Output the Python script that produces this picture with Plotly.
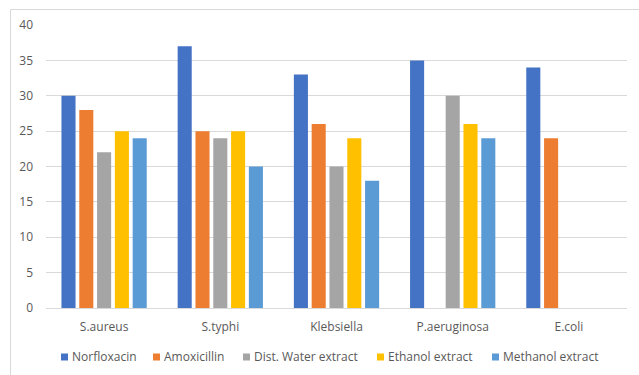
import plotly.graph_objects as go

# Zone of inhibition (mm) per organism and treatment
organisms = ["S.aureus", "S.typhi", "Klebsiella", "P.aeruginosa", "E.coli"]
series_names = ["Norfloxacin", "Amoxicillin", "Dist. Water extract",
                "Ethanol extract", "Methanol extract"]
norfloxacin = [30, 37, 33, 35, 34]
amoxicillin = [28, 25, 26, None, 24]
dist_water = [22, 24, 20, 30, None]
ethanol = [25, 25, 24, 26, None]
methanol = [24, 20, 18, 24, None]
series_values = [norfloxacin, amoxicillin, dist_water, ethanol, methanol]
colors = ["#4472C4", "#ED7D31", "#A5A5A5", "#FFC000", "#5B9BD5"]
y_ticks = [0, 5, 10, 15, 20, 25, 30, 35, 40]

W, H = 639, 375
L, R, T, B = 46, 12, 25, 67
pw, ph = W - L - R, H - T - B

FONT = "Open Sans"
FS = 12
TXT = "#595959"
GRID = "#D9D9D9"

fig = go.Figure()
for name, vals, col in zip(series_names, series_values, colors):
    fig.add_trace(go.Bar(x=organisms, y=vals, name=name, marker_color=col,
                         marker_line_width=0, showlegend=False))


def px_x(x):
    return (x - L) / pw


def px_y(y):
    return (H - B - y) / ph


shapes = [
    # outer chart frame
    dict(type="rect", xref="paper", yref="paper",
         x0=px_x(10.5), x1=px_x(641), y0=px_y(378), y1=px_y(9.5),
         line=dict(color=GRID, width=1), fillcolor="rgba(0,0,0,0)", layer="below"),
]
annotations = []

# legend row below the plot
legend_x = [61, 153, 243, 377, 492]
legend_y = 357
for name, col, lx in zip(series_names, colors, legend_x):
    shapes.append(dict(type="rect", xref="paper", yref="paper",
                       x0=px_x(lx), x1=px_x(lx + 7),
                       y0=px_y(legend_y + 3.5), y1=px_y(legend_y - 3.5),
                       line=dict(width=0), fillcolor=col))
    annotations.append(dict(text=name, xref="paper", yref="paper",
                            x=px_x(lx + 9), y=px_y(legend_y),
                            xanchor="left", yanchor="middle", showarrow=False,
                            font=dict(family=FONT, size=FS, color=TXT)))

fig.update_layout(
    width=W, height=H,
    margin=dict(l=L, r=R, t=T, b=B),
    paper_bgcolor="white", plot_bgcolor="white",
    barmode="group", bargap=0.234, bargroupgap=0.21,
    font=dict(family=FONT, size=FS, color=TXT),
    shapes=shapes, annotations=annotations,
    xaxis=dict(showgrid=False, showline=True, linecolor=GRID, linewidth=1,
               ticks="", ticklabelstandoff=8,
               tickfont=dict(family=FONT, size=FS, color=TXT)),
    yaxis=dict(range=[0, 40], tickvals=y_ticks, showgrid=True, gridcolor=GRID,
               gridwidth=1, zeroline=False, showline=False, ticks="",
               ticklabelstandoff=12,
               tickfont=dict(family=FONT, size=FS, color=TXT)),
)

fig.write_html("out.html")
